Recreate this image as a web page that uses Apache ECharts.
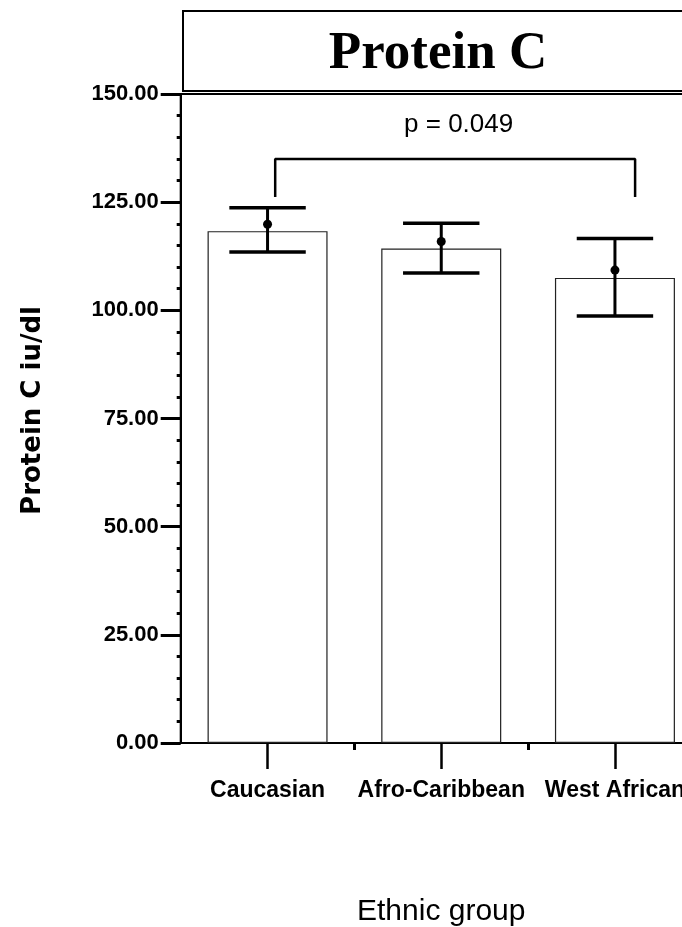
<!DOCTYPE html>
<html>
<head>
<meta charset="utf-8">
<script src="https://cdn.jsdelivr.net/npm/echarts@6/dist/echarts.min.js"></script>
<style>
  html, body { margin: 0; padding: 0; background: #fff; }
  #chart { width: 682px; height: 927px; }
</style>
</head>
<body>
<div id="chart"></div>
<script>
// data
const categories = ['Caucasian', 'Afro-Caribbean', 'West African'];
const barValues = [118.3, 114.3, 107.5];
const meanValues = [119.9, 115.9, 109.3];
const upperValues = [123.7, 120.1, 116.6];
const lowerValues = [113.5, 108.6, 98.7];
const yTicks = [0, 25, 50, 75, 100, 125, 150];

// significance bracket (x in category units, y in iu/dl)
const bracketX = [0.044, 2.116];
const bracketY = [126.2, 135.0];
const pLabel = 'p = 0.049';
const pPos = [1.1, 142.8];

const sans = '"Liberation Sans", Arial, sans-serif';

const chart = echarts.init(document.getElementById('chart'));

chart.setOption({
    backgroundColor: '#fff',
    animation: false,
    grid: {
        left: 180.7, top: 94, bottom: 184, right: -19.8,
        outerBoundsMode: 'none',
        containLabel: false,
        show: true, borderColor: '#000', borderWidth: 2, backgroundColor: 'transparent'
    },
    graphic: [
        {
            type: 'rect', left: 182, top: 10, z: 10,
            shape: { width: 520, height: 80 },
            style: { fill: '#fff', stroke: '#000', lineWidth: 2 }
        },
        {
            type: 'text', x: 438, y: 54, z: 11,
            style: {
                text: 'Protein C', fill: '#000',
                font: 'bold 53px "Liberation Serif", "Times New Roman", serif',
                textAlign: 'center', textVerticalAlign: 'middle'
            }
        }
    ],
    xAxis: [
        {
            type: 'category',
            data: categories,
            position: 'bottom',
            name: 'Ethnic group',
            nameLocation: 'middle',
            nameGap: 154,
            nameTextStyle: { color: '#000', fontSize: 30, fontFamily: sans },
            axisLine: { show: true, onZero: false, lineStyle: { color: '#000', width: 2 } },
            axisTick: { show: true, alignWithLabel: true, length: 26, lineStyle: { color: '#000', width: 2.5 } },
            axisLabel: { interval: 0, color: '#000', fontSize: 23, fontWeight: 'bold', fontFamily: sans, margin: 36 },
            splitLine: { show: false }
        },
        {
            // short ticks on the band boundaries
            type: 'category',
            data: categories,
            position: 'bottom',
            axisLine: { show: false, onZero: false },
            axisTick: { show: true, interval: idx => idx !== 0, length: 7, lineStyle: { color: '#000', width: 3 } },
            axisLabel: { show: false },
            splitLine: { show: false }
        },
        {
            type: 'value', min: -0.5, max: 2.5, show: false,
            position: 'top',
            axisLine: { onZero: false }
        }
    ],
    yAxis: {
        type: 'value',
        min: 0,
        max: 150,
        interval: 25,
        axisLine: { show: true, onZero: false, lineStyle: { color: '#000', width: 2 } },
        axisTick: { show: true, length: 20, lineStyle: { color: '#000', width: 3 } },
        minorTick: { show: true, splitNumber: 5, length: 4, lineStyle: { color: '#000', width: 3 } },
        axisLabel: {
            color: '#000', fontSize: 22, fontWeight: 'bold', fontFamily: sans, margin: 22,
            formatter: v => yTicks.includes(v) ? v.toFixed(2) : ''
        },
        splitLine: { show: false },
        name: 'Protein C iu/dl',
        nameLocation: 'middle',
        nameRotate: 90,
        nameGap: 134,
        nameTextStyle: {
            color: '#000', fontSize: 26, fontWeight: 'bold', fontFamily: '"DejaVu Sans", sans-serif',
            padding: [0, 0, 0, 16]
        }
    },
    series: [
        {
            type: 'bar',
            data: barValues,
            barWidth: 120,
            itemStyle: { color: '#fff', borderColor: '#222', borderWidth: 1.2 }
        },
        {
            type: 'custom',
            data: categories.map((c, i) => [i, meanValues[i], upperValues[i], lowerValues[i]]),
            encode: { x: 0, y: [1, 2, 3] },
            z: 5,
            renderItem: (params, api) => {
                const hi = api.coord([api.value(0), api.value(2)]);
                const lo = api.coord([api.value(0), api.value(3)]);
                const mid = api.coord([api.value(0), api.value(1)]);
                const half = api.size([1, 0])[0] * 0.22;
                const cap = { stroke: '#000', lineWidth: 3.5 };
                return {
                    type: 'group',
                    children: [
                        { type: 'line', shape: { x1: hi[0], y1: hi[1], x2: lo[0], y2: lo[1] }, style: { stroke: '#000', lineWidth: 3 } },
                        { type: 'line', shape: { x1: hi[0] - half, y1: hi[1], x2: hi[0] + half, y2: hi[1] }, style: cap },
                        { type: 'line', shape: { x1: lo[0] - half, y1: lo[1], x2: lo[0] + half, y2: lo[1] }, style: cap },
                        { type: 'circle', shape: { cx: mid[0], cy: mid[1], r: 4.5 }, style: { fill: '#000' } }
                    ]
                };
            }
        },
        {
            type: 'line',
            xAxisIndex: 2,
            data: [[bracketX[0], bracketY[0]], [bracketX[0], bracketY[1]], [bracketX[1], bracketY[1]], [bracketX[1], bracketY[0]]],
            symbol: 'none',
            lineStyle: { color: '#000', width: 2.5 },
            z: 5
        },
        {
            type: 'scatter',
            xAxisIndex: 2,
            data: [pPos],
            symbolSize: 0,
            itemStyle: { opacity: 1 },
            label: {
                show: true, position: 'inside', formatter: pLabel, opacity: 1,
                color: '#000', fontSize: 26, fontFamily: sans
            }
        }
    ]
});
</script>
</body>
</html>
